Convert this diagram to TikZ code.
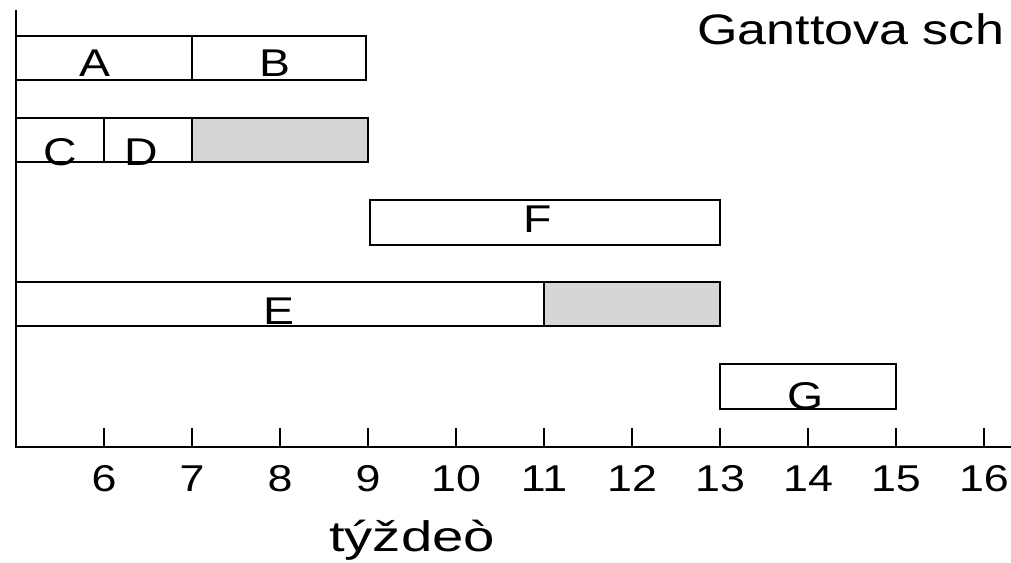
\documentclass[tikz,border=0pt]{standalone}
\usepackage{fontspec}
\setmainfont[FakeStretch=1.2]{Liberation Sans}
\newfontfamily\widefont[FakeStretch=1.32]{Liberation Sans}
\newfontfamily\titlefont[FakeStretch=1.22]{Liberation Sans}
\usepackage{tikz}
\usetikzlibrary{positioning}

\begin{document}
\begin{tikzpicture}[
    x=66pt, y=-0.75pt,
    font=\fontsize{29}{32}\selectfont,
    task/.style={draw=black, line width=1.3pt, fill=white},
    slack/.style={draw=black, line width=1.3pt, fill=black!16},
    axis/.style={draw=black, line width=1.3pt},
    lbl/.style={anchor=base, inner sep=0pt},
    tick/.style={anchor=base, inner sep=0pt, font=\fontsize{28}{30}\selectfont}
]
\useasboundingbox (4.818,0) rectangle (16.307,563);

%% ══════════════════════════════ BARS ══════════════════════════════
%% x in weeks, y in pixels from the top
\draw[task]  (5,36)  rectangle (7,80);
\draw[task]  (7,36)  rectangle (8.98,80);
\draw[task]  (5,118) rectangle (6,162);
\draw[task]  (6,118) rectangle (7,162);
\draw[slack] (7,118) rectangle (9,162);
\draw[task]  (9.02,200) rectangle (13,245);
\draw[task]  (5,282) rectangle (11,326);
\draw[slack] (11,282) rectangle (13,326);
\draw[task]  (13,364) rectangle (15,409);

\node[lbl] (lblA) at (5.90,77)  {A};
\node[lbl] (lblB) at (7.94,77)  {B};
\node[lbl] (lblC) at (5.50,166) {C};
\node[lbl] (lblD) at (6.42,166) {D};
\node[lbl] (lblF) at (10.93,233) {F};
\node[lbl] (lblE) at (7.99,325) {E};
\node[lbl] (lblG) at (13.97,410) {G};

%% ══════════════════════════════ AXES ══════════════════════════════
\coordinate (origin) at (5,447);
\coordinate (ytop)   at (5,10);
\coordinate (xend)   at (16.31,447);
\draw[axis] (ytop) -- (origin) -- (xend);

\foreach \w in {6,...,16}{
    \draw[axis] (\w,428) -- (\w,447);
    \node[tick] (wk\w) at (\w,492) {\w};
}

\node[lbl, font=\widefont\fontsize{32}{36}\selectfont] (xlabel) at (9.5,552) {týždeò};
\node[anchor=base west, inner sep=0pt, font=\titlefont\fontsize{32}{36}\selectfont]
    (title) at (12.739,45) {Ganttova sch};

\end{tikzpicture}
\end{document}
